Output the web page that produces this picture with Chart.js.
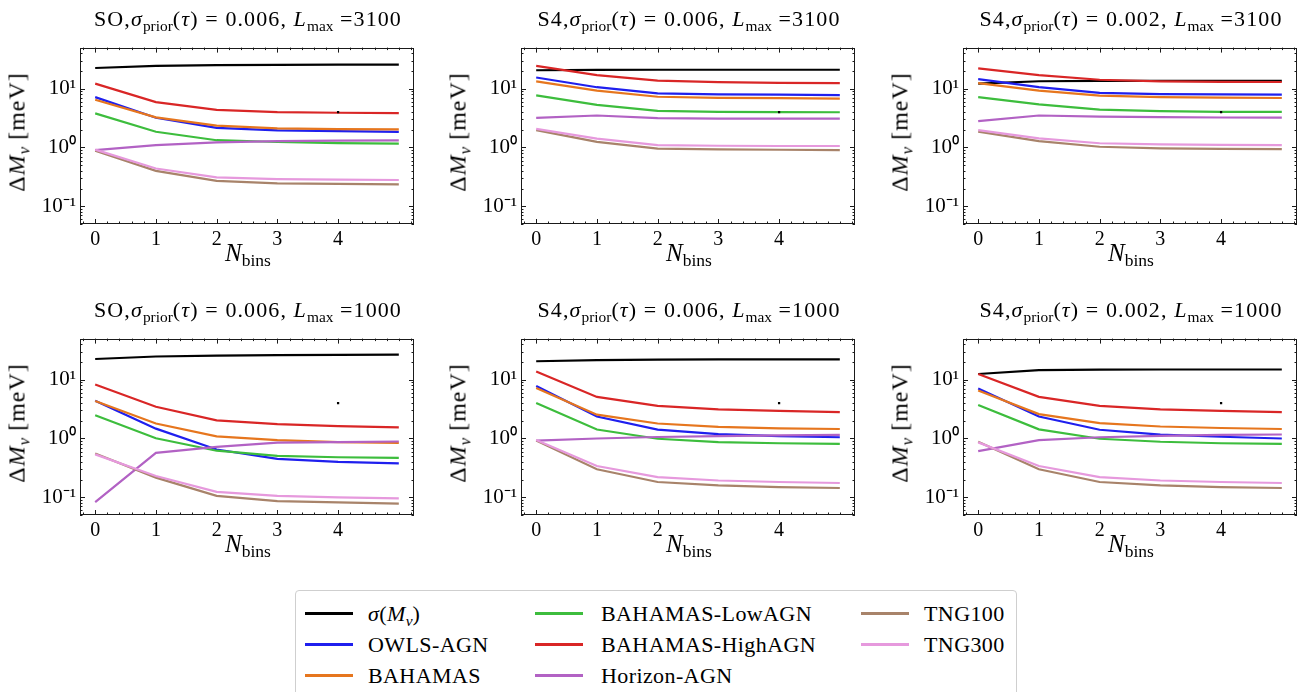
<!DOCTYPE html>
<html>
<head>
<meta charset="utf-8">
<script src="https://cdn.jsdelivr.net/npm/chart.js@4.4.0/dist/chart.umd.min.js"></script>
<style>
  body { margin: 0; width: 1301px; height: 692px; overflow: hidden; position: relative; background: #fff;
         font-family: "Liberation Serif", serif; color: #000; }
  canvas { position: absolute; }
  .txt { position: absolute; white-space: nowrap; line-height: 26px; font-family: "Liberation Serif", serif; }
  .title { font-size: 22px; letter-spacing: 1.1px; transform: translateX(-50%); }
  .xlab { font-size: 25px; transform: translateX(-50%); }
  .ylab { font-size: 24px; letter-spacing: 1px; transform: translate(-50%, -50%) rotate(-90deg); }
  .sub { font-size: 70%; position: relative; top: 0.3em; letter-spacing: 0; }
  i { font-style: italic; }
  #legend { position: absolute; left: 295px; top: 590px; width: 722px; height: 120px;
            border: 1px solid #cfcfcf; border-radius: 4px; box-sizing: border-box; }
  .lg-line { position: absolute; height: 3px; width: 48px; }
  .lg-text { position: absolute; font-family: "Liberation Serif", serif; font-size: 22px;
             letter-spacing: 0.4px; line-height: 26px; white-space: nowrap; }
</style>
</head>
<body>
<div id="legend"></div>
<script>
// x values (number of bins) and tick labels
const NBINS = [0, 1, 2, 3, 4, 5];
const X_TICKS = [0, 1, 2, 3, 4];
const Y_TICKS = [0.1, 1, 10];

// panel order: SO/0.006/3100, S4/0.006/3100, S4/0.002/3100, SO/0.006/1000, S4/0.006/1000, S4/0.002/1000
const PANEL_EXP   = ["SO", "S4", "S4", "SO", "S4", "S4"];
const PANEL_TAU   = ["0.006", "0.006", "0.002", "0.006", "0.006", "0.002"];
const PANEL_LMAX  = ["3100", "3100", "3100", "1000", "1000", "1000"];

// Delta M_nu [meV], one row per panel
const SIGMA = [
  [22.5, 24.5, 25.2, 25.5, 25.6, 25.7],
  [20.6, 20.9, 21.0, 21.0, 21.0, 21.0],
  [12.2, 13.4, 13.6, 13.6, 13.6, 13.6],
  [22.5, 24.8, 25.6, 26.1, 26.4, 26.6],
  [20.6, 21.5, 22.0, 22.1, 22.2, 22.2],
  [12.5, 14.5, 14.8, 14.9, 14.9, 14.9]
];
const OWLS_AGN = [
  [7.2, 3.2, 2.15, 1.95, 1.9, 1.85],
  [15.5, 10.6, 8.3, 8.0, 7.9, 7.8],
  [14.5, 10.6, 8.5, 8.1, 8.0, 7.9],
  [4.4, 1.47, 0.65, 0.45, 0.40, 0.378],
  [7.8, 2.36, 1.42, 1.19, 1.10, 1.05],
  [7.06, 2.36, 1.41, 1.16, 1.07, 1.0]
];
const BAHAMAS = [
  [6.5, 3.25, 2.35, 2.12, 2.05, 2.03],
  [13.3, 9.3, 7.3, 7.0, 6.9, 6.8],
  [12.4, 9.3, 7.6, 7.2, 7.05, 6.95],
  [4.35, 1.8, 1.09, 0.94, 0.87, 0.84],
  [7.2, 2.54, 1.8, 1.58, 1.49, 1.45],
  [6.55, 2.6, 1.82, 1.6, 1.51, 1.45]
];
const BAHAMAS_LOW = [
  [3.8, 1.85, 1.33, 1.24, 1.19, 1.16],
  [7.7, 5.3, 4.2, 4.05, 4.0, 3.98],
  [7.2, 5.4, 4.4, 4.15, 4.05, 4.03],
  [2.48, 1.01, 0.62, 0.505, 0.48, 0.468],
  [4.03, 1.42, 0.99, 0.87, 0.83, 0.81],
  [3.7, 1.43, 0.99, 0.88, 0.83, 0.81]
];
const BAHAMAS_HIGH = [
  [12.2, 5.9, 4.35, 4.0, 3.9, 3.85],
  [24.5, 17.0, 13.7, 12.9, 12.6, 12.4],
  [22.2, 17.0, 14.2, 13.3, 13.1, 13.0],
  [8.3, 3.47, 2.03, 1.75, 1.62, 1.55],
  [13.8, 5.1, 3.6, 3.14, 2.95, 2.81],
  [12.5, 5.1, 3.6, 3.14, 2.95, 2.81]
];
const HORIZON_AGN = [
  [0.9, 1.1, 1.22, 1.28, 1.31, 1.32],
  [3.2, 3.5, 3.15, 3.1, 3.1, 3.1],
  [2.8, 3.5, 3.35, 3.28, 3.24, 3.22],
  [0.083, 0.57, 0.72, 0.85, 0.87, 0.89],
  [0.92, 1.0, 1.06, 1.10, 1.13, 1.15],
  [0.61, 0.94, 1.05, 1.11, 1.15, 1.17]
];
const TNG100 = [
  [0.88, 0.40, 0.27, 0.245, 0.24, 0.236],
  [1.98, 1.25, 0.96, 0.93, 0.915, 0.905],
  [1.86, 1.28, 1.03, 0.97, 0.95, 0.94],
  [0.557, 0.216, 0.106, 0.086, 0.082, 0.078],
  [0.92, 0.30, 0.182, 0.16, 0.149, 0.144],
  [0.88, 0.30, 0.182, 0.16, 0.149, 0.144]
];
const TNG300 = [
  [0.92, 0.44, 0.31, 0.29, 0.285, 0.28],
  [2.08, 1.42, 1.1, 1.07, 1.06, 1.06],
  [1.98, 1.43, 1.18, 1.13, 1.11, 1.1],
  [0.537, 0.23, 0.124, 0.106, 0.10, 0.096],
  [0.94, 0.34, 0.22, 0.193, 0.182, 0.175],
  [0.86, 0.34, 0.22, 0.193, 0.182, 0.175]
];
// the stray black marker seen in every panel
const MARK_X = [4];
const MARK_Y = [4];

const SERIES = [
  { label: "<i>σ</i>(<i>M</i><span class='sub'><i>ν</i></span>)", data: SIGMA,        color: "#000000" },
  { label: "OWLS-AGN",         data: OWLS_AGN,     color: "#1f1fee" },
  { label: "BAHAMAS",          data: BAHAMAS,      color: "#e6761e" },
  { label: "BAHAMAS-LowAGN",   data: BAHAMAS_LOW,  color: "#3dbd3d" },
  { label: "BAHAMAS-HighAGN",  data: BAHAMAS_HIGH, color: "#d92626" },
  { label: "Horizon-AGN",      data: HORIZON_AGN,  color: "#b262c4" },
  { label: "TNG100",           data: TNG100,       color: "#a8836a" },
  { label: "TNG300",           data: TNG300,       color: "#e699dd" }
];

// layout
const PLOT_LEFT = [80, 521, 963];
const PLOT_TOP = [39, 330];
const PLOT_W = 336, PLOT_H = 185;
const AX_L = 56, PAD_T = 8, PAD_R = 2, AX_B = 30;

const SUP = { "-": "⁻", "0": "⁰", "1": "¹", "2": "²" };
const supStr = (n) => String(n).split("").map((c) => SUP[c]).join("");

const frameTicks = {
  id: "frameTicks",
  afterDatasetsDraw(chart) {
    const { ctx, chartArea: a, scales: { x, y } } = chart;
    ctx.save();
    ctx.strokeStyle = "#1a1a1a";
    ctx.lineWidth = 1;
    ctx.strokeRect(Math.round(a.left) + 0.5, Math.round(a.top) + 0.5,
                   Math.round(a.right - a.left) - 1, Math.round(a.bottom - a.top) - 1);
    ctx.beginPath();
    const xt = [];
    for (let k = -1; k <= 26; k++) {
      const v = +(k * 0.2).toFixed(1);
      if (v < x.min || v > x.max) continue;
      xt.push([v, X_TICKS.includes(v) ? 5 : 2.5]);
    }
    xt.forEach(([v, len]) => {
      const px = Math.round(x.getPixelForValue(v)) + 0.5;
      ctx.moveTo(px, a.bottom); ctx.lineTo(px, a.bottom - len);
      ctx.moveTo(px, a.top); ctx.lineTo(px, a.top + len);
    });
    for (let e = -2; e <= 1; e++) {
      for (let m = 1; m <= 9; m++) {
        const v = m * Math.pow(10, e);
        if (v < y.min || v > y.max) continue;
        const len = m === 1 ? 5 : 2.5;
        const py = Math.round(y.getPixelForValue(v)) + 0.5;
        ctx.moveTo(a.left, py); ctx.lineTo(a.left + len, py);
        ctx.moveTo(a.right, py); ctx.lineTo(a.right - len, py);
      }
    }
    ctx.stroke();
    ctx.restore();
  }
};

function addText(cls, html, left, top) {
  const d = document.createElement("div");
  d.className = "txt " + cls;
  d.innerHTML = html;
  d.style.left = left + "px";
  d.style.top = top + "px";
  document.body.appendChild(d);
}

function makePanel(p) {
  const col = p % 3, row = Math.floor(p / 3);
  const pl = PLOT_LEFT[col], pt = PLOT_TOP[row];
  const cv = document.createElement("canvas");
  cv.width = AX_L + PLOT_W + PAD_R;
  cv.height = PAD_T + PLOT_H + AX_B;
  cv.style.left = (pl - AX_L) + "px";
  cv.style.top = (pt - PAD_T) + "px";
  document.body.appendChild(cv);

  const datasets = SERIES.map((s, i) => ({
    label: s.label,
    data: NBINS.map((n, j) => ({ x: n, y: s.data[p][j] })),
    borderColor: s.color,
    backgroundColor: s.color,
    borderWidth: 2.2,
    pointRadius: 0,
    tension: 0,
    order: SERIES.length + 1 - i
  }));
  datasets.push({
    label: "marker",
    data: MARK_X.map((v, j) => ({ x: v, y: MARK_Y[j] })),
    showLine: false,
    pointStyle: "rect",
    pointRadius: 1.6,
    borderWidth: 0,
    backgroundColor: "#000",
    order: 0
  });

  new Chart(cv, {
    type: "line",
    data: { datasets },
    options: {
      responsive: false,
      animation: false,
      devicePixelRatio: 1,
      events: [],
      layout: { padding: { top: PAD_T, right: PAD_R, left: 0, bottom: 0 } },
      plugins: { legend: { display: false }, tooltip: { enabled: false } },
      scales: {
        x: {
          type: "linear", min: -0.25, max: 5.25,
          afterFit: (s) => { s.height = AX_B; },
          afterBuildTicks: (s) => { s.ticks = X_TICKS.map((v) => ({ value: v })); },
          grid: { display: false, drawTicks: false },
          border: { display: false },
          ticks: { color: "#000", padding: 4, maxRotation: 0, autoSkip: false,
                   font: { family: "Liberation Serif", size: 20 },
                   callback: (v) => String(v) }
        },
        y: {
          type: "logarithmic", min: 0.05, max: 50,
          afterFit: (s) => { s.width = AX_L; },
          afterBuildTicks: (s) => { s.ticks = Y_TICKS.map((v) => ({ value: v })); },
          grid: { display: false, drawTicks: false },
          border: { display: false },
          ticks: { color: "#000", padding: 4, autoSkip: false,
                   font: { family: "Liberation Serif", size: 21 },
                   callback: (v) => "10" + supStr(Math.round(Math.log10(v))) }
        }
      }
    },
    plugins: [frameTicks]
  });

  const cx = pl + PLOT_W / 2;
  addText("title",
    PANEL_EXP[p] + ",<i>σ</i><span class='sub'>prior</span>(<i>τ</i>) = " + PANEL_TAU[p] +
    ", <i>L</i><span class='sub'>max</span> =" + PANEL_LMAX[p], cx, pt - 33);
  addText("xlab", "<i>N</i><span class='sub'>bins</span>", cx, pt + PLOT_H + 16);
  addText("ylab", "Δ<i>M</i><span class='sub'><i>ν</i></span> [meV]", pl - 62, pt + PLOT_H / 2);
}

for (let p = 0; p < 6; p++) makePanel(p);

// legend (column-major, 3 rows)
const LG_COLS = [{ line: 304, text: 367 }, { line: 534, text: 600 }, { line: 860, text: 923 }];
const LG_ROWS = [613, 644, 675];
const lg = document.getElementById("legend");
SERIES.forEach((s, i) => {
  const c = LG_COLS[Math.floor(i / 3)], r = LG_ROWS[i % 3];
  const ln = document.createElement("div");
  ln.className = "lg-line";
  ln.style.background = s.color;
  ln.style.left = (c.line - 295) + "px";
  ln.style.top = (r - 590 - 2.5) + "px";
  lg.appendChild(ln);
  const tx = document.createElement("div");
  tx.className = "lg-text";
  tx.innerHTML = s.label;
  tx.style.left = (c.text - 295) + "px";
  tx.style.top = (r - 590 - 13) + "px";
  lg.appendChild(tx);
});
</script>
</body>
</html>
